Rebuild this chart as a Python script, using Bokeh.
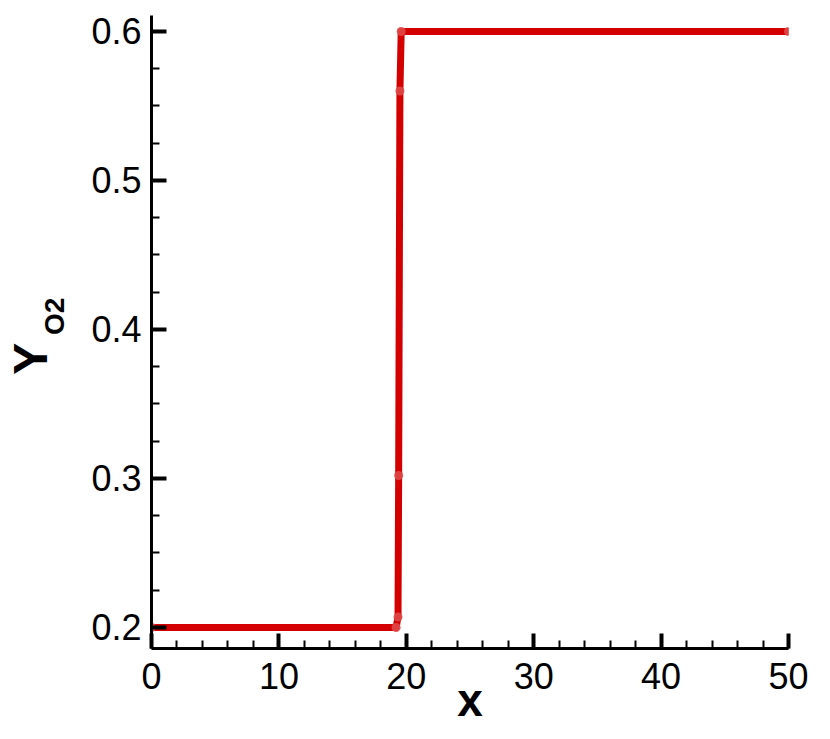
from bokeh.plotting import figure
from bokeh.models import SingleIntervalTicker, FixedTicker, LinearAxis, Range1d
from bokeh.embed import file_html
from bokeh.resources import INLINE

# data
x_vals = [0.0, 19.2, 19.35, 19.4, 19.5, 19.6, 50.0]
y_vals = [0.2, 0.2, 0.207, 0.302, 0.56, 0.6, 0.6]
x_label = "x"
y_label_main = "Y"
y_label_sub = "O2"

FONT = "Liberation Sans"
RED = "#d40000"
NBSP = "\u00a0"

p = figure(width=814, height=731, output_backend="svg", toolbar_location=None,
           x_range=Range1d(0, 50), y_range=Range1d(0.1859, 0.6107),
           min_border_left=150, min_border_right=26, min_border_top=15, min_border_bottom=83)
p.outline_line_color = None
p.grid.visible = False
p.background_fill_color = "white"
p.border_fill_color = "white"

p.line(x_vals, y_vals, line_color=RED, line_width=7, line_cap="round", line_join="round")
p.scatter(x_vals, y_vals, size=9, fill_color="#e04848", line_color=None, fill_alpha=0.9)

for ax, tk in ((p.xaxis[0], SingleIntervalTicker(interval=10, num_minor_ticks=5)),
               (p.yaxis[0], SingleIntervalTicker(interval=0.1, num_minor_ticks=4))):
    ax.ticker = tk
    ax.axis_line_width = 3
    ax.axis_line_color = "black"
    ax.major_tick_in = 15
    ax.major_tick_out = 0
    ax.major_tick_line_width = 4
    ax.minor_tick_in = 8
    ax.minor_tick_out = 0
    ax.minor_tick_line_width = 2
    ax.major_label_text_font = FONT
    ax.major_label_text_font_size = "36px"
    ax.major_label_text_color = "black"
p.yaxis[0].major_label_standoff = 10
p.xaxis[0].major_label_standoff = 14

p.xaxis[0].axis_label = x_label
p.xaxis[0].axis_label_text_font = FONT
p.xaxis[0].axis_label_text_font_size = "46px"
p.xaxis[0].axis_label_text_font_style = "bold"
p.xaxis[0].axis_label_text_color = "black"
p.xaxis[0].axis_label_standoff = -18


def label_axis(text, size, standoff):
    ax = LinearAxis(ticker=FixedTicker(ticks=[]),
                    axis_line_color=None, major_tick_line_color=None,
                    minor_tick_line_color=None, major_label_text_font_size="0px",
                    axis_label=text, axis_label_text_font=FONT,
                    axis_label_text_font_size=size, axis_label_text_font_style="bold",
                    axis_label_text_color="black", axis_label_standoff=standoff)
    p.add_layout(ax, "left")


# subscript sits a little higher than the centred main letter
label_axis(NBSP * 4 + y_label_sub, "28px", 19)
label_axis(y_label_main + NBSP * 4, "48px", -21)

open("out.html", "w").write(file_html(p, INLINE))
